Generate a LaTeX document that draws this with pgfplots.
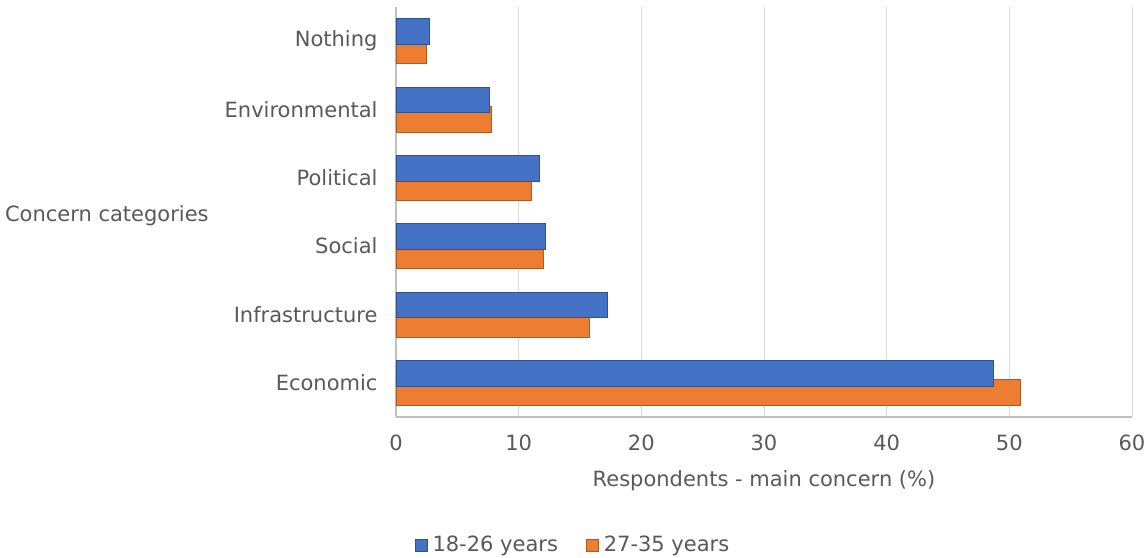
\documentclass[border=0pt]{standalone}
\usepackage{fontspec}
\setmainfont{DejaVu Sans}
\usepackage{pgfplots}
\pgfplotsset{compat=1.18}
\definecolor{cblue}{HTML}{4472C4}
\definecolor{cblueE}{HTML}{2F528F}
\definecolor{corange}{HTML}{ED7D31}
\definecolor{corangeE}{HTML}{AE5A21}
\definecolor{txt}{HTML}{595959}
\definecolor{grd}{HTML}{D9D9D9}
\definecolor{axl}{HTML}{BFBFBF}
\begin{document}
\begin{tikzpicture}[x=1pt,y=1pt]
\path[use as bounding box] (0,0) rectangle (1146,557);
\begin{axis}[
  at={(396pt,140pt)}, anchor=south west,
  scale only axis, width=736pt, height=410pt,
  xmin=0, xmax=60, ymin=-0.5, ymax=5.5,
  xtick={0,10,...,60},
  ytick={0,1,2,3,4,5},
  yticklabels={Economic,Infrastructure,Social,Political,Environmental,Nothing},
  major tick length=0pt,
  xmajorgrids, grid style={grd, line width=1pt},
  axis x line*=bottom, axis y line*=left,
  axis line style={axl, line width=1.3pt},
  font=\fontsize{21}{25}\selectfont,
  /pgf/number format/assume math mode=true,
  tick label style={text=txt, font=\fontsize{21}{25}\selectfont},
  xticklabel style={yshift=-14pt},
  yticklabel style={xshift=-15pt},
  xlabel={Respondents - main concern (\%)},
  xlabel style={text=txt, at={(axis description cs:0.5,-0.156)}, anchor=center},
  ylabel={Concern categories},
  ylabel style={text=txt, rotate=-90, at={(axis description cs:-0.536,0.49)}, anchor=west},
  xbar, bar width=25.7pt,
  legend style={at={(axis description cs:0.2405,-0.312)}, anchor=center, draw=none,
    legend columns=2, text=txt, font=\fontsize{21}{25}\selectfont,
    /tikz/every even column/.append style={column sep=26pt}},
  legend image code/.code={\draw[#1] (0pt,-6pt) rectangle (12pt,6pt); \path (15pt,0pt);},
  clip=false,
]
\addlegendimage{fill=cblue, draw=cblueE, line width=0.8pt}
\addlegendentry{18-26 years}
\addlegendimage{fill=corange, draw=corangeE, line width=0.8pt}
\addlegendentry{27-35 years}
\addplot[fill=corange, draw=corangeE, line width=0.8pt, bar shift=-9.6pt, forget plot] coordinates {
 (50.87,0) (15.8,1) (12.05,2) (11.0,3) (7.75,4) (2.5,5)};
\addplot[fill=cblue, draw=cblueE, line width=0.8pt, bar shift=9.6pt, forget plot] coordinates {
 (48.73,0) (17.2,1) (12.2,2) (11.7,3) (7.6,4) (2.7,5)};
\end{axis}
\end{tikzpicture}
\end{document}
